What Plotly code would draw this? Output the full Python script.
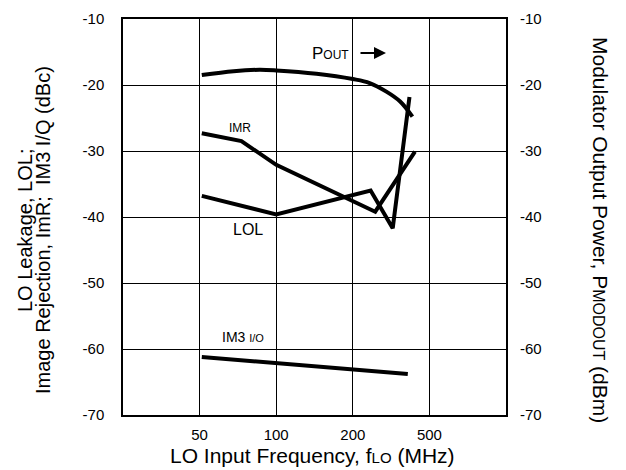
import plotly.graph_objects as go

# LO input frequency (MHz) on a log axis (grid: 50, 100, 200, "500")
tick_vals = [50, 100, 200, 400]
tick_text = ["50", "100", "200", "500"]
y_ticks = [-10, -20, -30, -40, -50, -60, -70]
y_tick_text = ["-10", "-20", "-30", "-40", "-50", "-60", "-70"]

pout_f = [51, 68, 86, 100, 144, 200, 233, 271, 307, 343]
pout_v = [-18.5, -17.9, -17.7, -17.8, -18.3, -19.1, -19.7, -21.0, -22.5, -24.8]

imr_f = [51, 73, 100, 245, 351]
imr_v = [-27.3, -28.5, -32.1, -39.2, -30.1]

lol_f = [51, 100, 235, 287, 334]
lol_v = [-36.8, -39.6, -36.0, -41.7, -21.8]

im3_f = [51, 100, 200, 329]
im3_v = [-61.2, -62.1, -63.0, -63.8]

FONT = "Liberation Sans, Arial, sans-serif"
line = dict(color="black", width=4)

fig = go.Figure()
fig.add_trace(go.Scatter(x=imr_f, y=imr_v, mode="lines", line=line, showlegend=False))
fig.add_trace(go.Scatter(x=lol_f, y=lol_v, mode="lines", line=line, showlegend=False))
fig.add_trace(go.Scatter(x=im3_f, y=im3_v, mode="lines", line=line, showlegend=False))
fig.add_trace(go.Scatter(x=pout_f, y=pout_v, mode="lines", line=line, showlegend=False,
                         line_shape="spline", yaxis="y2"))

xr = [1.39794, 2.90309]  # log10(25) .. log10(800)
fig.update_layout(
    width=618, height=462,
    margin=dict(l=115, r=120, t=11, b=55),
    paper_bgcolor="white", plot_bgcolor="white",
    font=dict(family=FONT, size=15, color="black"),
    xaxis=dict(type="log", range=xr, tickvals=tick_vals, ticktext=tick_text,
               showgrid=True, gridcolor="black", gridwidth=1,
               showline=True, linecolor="black", linewidth=1.5, mirror=True,
               ticks="", ticklabelstandoff=5, zeroline=False, automargin=False),
    yaxis=dict(range=[-70, -10], tickvals=y_ticks, ticktext=y_tick_text,
               showgrid=True, gridcolor="black", gridwidth=1,
               showline=True, linecolor="black", linewidth=1.5, mirror=True,
               ticks="", ticklabelstandoff=14, zeroline=False, automargin=False),
    yaxis2=dict(range=[-70, -10], tickvals=y_ticks, ticktext=y_tick_text,
                overlaying="y", side="right",
                showgrid=False, ticks="", ticklabelstandoff=13, zeroline=False,
                showline=False, automargin=False),
)

def px(xp):
    return (xp - 123) / 383.0

def py(yp):
    return 1 - (yp - 19) / 396.0

ann = [
    dict(x=px(25), y=py(231), text="LO Leakage, LOL;", textangle=-90, font=dict(size=20)),
    dict(x=px(43), y=py(230), text="Image Rejection, ImR;  IM3 I/Q (dBc)",
         textangle=-90, font=dict(size=20)),
    dict(x=px(601), y=py(230),
         text="Modulator Output Power, P<span style='font-size:16px'>MODOUT</span> (dBm)",
         textangle=90, font=dict(size=21)),
    dict(x=px(312), y=py(455),
         text="LO Input Frequency, f<span style='font-size:15px'>LO</span> (MHz)",
         font=dict(size=21)),
    dict(x=px(330), y=py(53), text="P<span style='font-size:12px'>OUT</span>", font=dict(size=17)),
    dict(x=px(240), y=py(128), text="IMR", font=dict(size=12)),
    dict(x=px(248), y=py(229), text="LOL", font=dict(size=16)),
    dict(x=px(243), y=py(337), text="IM3 <span style='font-size:11px'>I/O</span>", font=dict(size=14)),
]
annotations = [dict(a, xref="paper", yref="paper", showarrow=False, xanchor="center",
                    yanchor="middle") for a in ann]
annotations.append(dict(xref="paper", yref="paper", x=px(386), y=py(53), text="",
                        showarrow=True, ax=-27, ay=0, arrowhead=2, arrowsize=1.2,
                        arrowwidth=2, arrowcolor="black"))
fig.update_layout(annotations=annotations)

fig.write_html("out.html")
